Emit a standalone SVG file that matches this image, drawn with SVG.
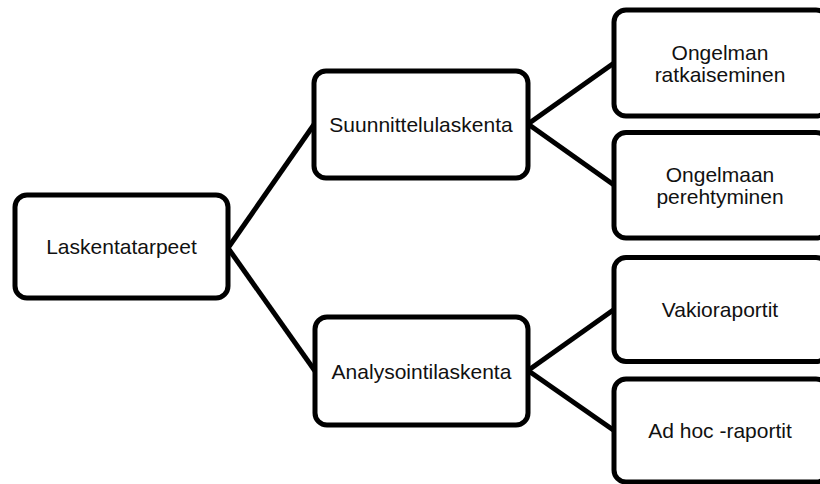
<svg xmlns="http://www.w3.org/2000/svg" width="820" height="484" viewBox="0 0 820 484">
  <style>
    .box { fill: #ffffff; stroke: #000000; stroke-width: 5; }
    .lbl { font-family: "Liberation Sans", Arial, sans-serif; font-size: 21px; fill: #111111; text-anchor: middle; }
    .conn { stroke: #000000; stroke-width: 5; fill: none; }
  </style>
  <rect width="820" height="484" fill="#ffffff"/>
  <g id="connectors">
    <line class="conn" x1="228" y1="248" x2="314" y2="124.5"/>
    <line class="conn" x1="228" y1="248" x2="315" y2="371"/>
    <line class="conn" x1="528" y1="124" x2="614" y2="63"/>
    <line class="conn" x1="528" y1="124" x2="614" y2="185"/>
    <line class="conn" x1="528" y1="370.5" x2="614" y2="309.5"/>
    <line class="conn" x1="528" y1="370.5" x2="614" y2="430.5"/>
  </g>
  <g id="node-laskentatarpeet">
    <rect class="box" x="15" y="195" width="213" height="103" rx="12"/>
    <text class="lbl" x="121.5" y="253.5">Laskentatarpeet</text>
  </g>
  <g id="node-suunnittelulaskenta">
    <rect class="box" x="314" y="71" width="214" height="107" rx="12"/>
    <text class="lbl" x="421" y="132">Suunnittelulaskenta</text>
  </g>
  <g id="node-analysointilaskenta">
    <rect class="box" x="315" y="317" width="213" height="108" rx="12"/>
    <text class="lbl" x="421.5" y="378.5">Analysointilaskenta</text>
  </g>
  <g id="node-ongelman-ratkaiseminen">
    <rect class="box" x="614" y="10" width="214" height="106" rx="12"/>
    <text class="lbl" x="720" y="59.5">Ongelman</text>
    <text class="lbl" x="720" y="81.5">ratkaiseminen</text>
  </g>
  <g id="node-ongelmaan-perehtyminen">
    <rect class="box" x="614" y="132.5" width="214" height="105.5" rx="12"/>
    <text class="lbl" x="720" y="181.5">Ongelmaan</text>
    <text class="lbl" x="720" y="203.5">perehtyminen</text>
  </g>
  <g id="node-vakioraportit">
    <rect class="box" x="614" y="257.5" width="214" height="104" rx="12"/>
    <text class="lbl" x="720" y="317">Vakioraportit</text>
  </g>
  <g id="node-adhoc-raportit">
    <rect class="box" x="614" y="379" width="214" height="103" rx="12"/>
    <text class="lbl" x="720" y="438">Ad hoc -raportit</text>
  </g>
</svg>
